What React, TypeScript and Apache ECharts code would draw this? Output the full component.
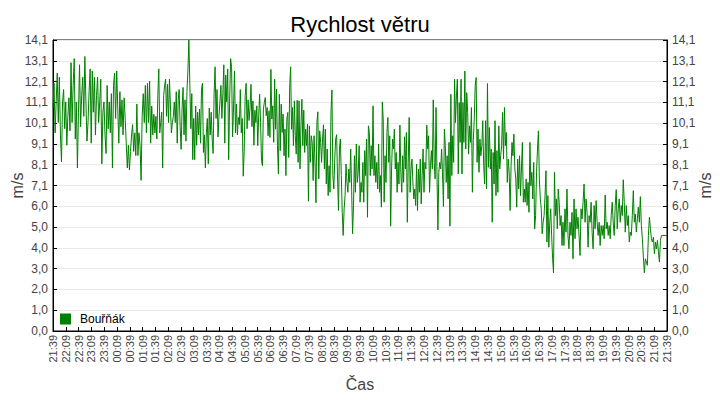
import React, { useEffect, useRef } from "react";
import * as echarts from "echarts";

const seriesName = "Bouřňák";

const xTickLabels = [
  "21:39", "22:09", "22:39", "23:09", "23:39", "00:09", "00:39", "01:09", "01:39", "02:09",
  "02:39", "03:09", "03:39", "04:09", "04:39", "05:09", "05:39", "06:09", "06:39", "07:09",
  "07:39", "08:09", "08:39", "09:09", "09:39", "10:09", "10:39", "11:09", "11:39", "12:09",
  "12:39", "13:09", "13:39", "14:09", "14:39", "15:09", "15:39", "16:09", "16:39", "17:09",
  "17:39", "18:09", "18:39", "19:09", "19:39", "20:09", "20:39", "21:09", "21:39",
];

const yTickLabels = [
  "0,0", "1,0", "2,0", "3,0", "4,0", "5,0", "6,0", "7,1", "8,1", "9,1", "10,1", "11,1", "12,1", "13,1", "14,1",
];

const yMax = 14.1;
const ySplits = 14;
const xMaxMinutes = 1440;

// wind speed readings (m/s) in six time windows
const seg1 = [
  10.8, 12.0, 9.6, 11.1, 12.5, 10.1, 12.3, 9.5, 8.2, 11.1, 11.7, 9.8, 11.1, 9.0, 10.4, 11.3, 9.7, 13.0, 10.1, 11.9,
  13.2, 9.3, 11.1, 7.9, 10.6, 12.9, 9.9, 11.4, 12.3, 10.4, 13.3, 11.1, 9.2, 10.1, 11.6, 12.7, 9.1, 12.6, 10.6, 12.3,
  9.5, 11.4, 12.3, 10.1, 11.1, 12.2, 8.1, 10.6, 11.1, 9.5, 8.6, 11.9, 9.8, 11.1, 9.6, 11.5, 7.9, 11.9, 12.5, 10.3,
  12.6, 10.8, 9.1, 11.6, 9.9, 11.2, 9.5, 11.3, 10.3, 9.1, 7.9, 9.0, 7.8, 8.7, 9.5, 10.0, 8.7, 9.6, 8.5, 11.0,
  8.5, 9.6, 9.0, 7.3, 10.4, 11.5, 10.1, 11.9, 9.6, 12.0, 10.1, 12.1, 9.1, 10.9, 9.5, 10.5,
];
const seg2 = [
  9.6, 10.4, 9.3, 11.4, 12.7, 9.6, 10.1, 10.6, 7.9, 11.4, 11.9, 12.2, 10.4, 11.95, 10.1, 12.2, 10.9, 9.6, 10.1, 10.4,
  11.1, 10.1, 11.6, 9.1, 11.2, 11.7, 9.9, 8.8, 10.8, 11.8, 9.5, 11.2, 9.2, 11.6, 12.6, 14.1, 11.9, 9.8, 11.5, 8.3,
  10.3, 8.3, 10.9, 9.0, 10.6, 9.5, 10.75, 9.1, 11.7, 12.0, 8.65, 9.5, 7.9, 9.6, 10.3, 8.1, 10.8, 9.5, 10.6, 9.3,
  8.6, 11.5, 12.8, 10.3, 11.7, 9.4, 10.4, 11.1, 11.9, 10.3, 11.5, 12.9, 9.1, 12.4, 11.1, 12.7, 8.3, 11.1, 13.2, 12.8,
  9.4, 10.8, 12.6, 9.6, 11.0, 9.5, 10.35, 10.0, 11.7, 9.6, 10.3, 7.5, 8.7, 11.4, 12.0, 9.8, 11.2, 10.2, 10.8, 11.95,
  9.9, 11.15, 9.0, 10.7, 10.1,
];
const seg3 = [
  10.91, 8.98, 10.43, 11.47, 10.1, 8.25, 8.01, 10.75, 11.07, 11.31, 10.43, 10.83, 9.46, 10.67, 9.38, 12.68, 10.27, 10.91, 9.14, 12.2,
  9.78, 11.72, 8.98, 7.61, 11.47, 8.74, 10.99, 9.62, 10.51, 8.49, 9.78, 7.53, 10.27, 10.59, 8.41, 11.8, 12.8, 9.78, 10.83, 8.98,
  11.15, 9.46, 8.57, 11.18, 8.17, 11.15, 7.85, 9.94, 11.23, 8.98, 10.7, 8.65, 9.78, 8.98, 10.02, 6.29, 9.94, 8.17, 9.46, 9.14,
  7.29, 9.46, 8.17, 6.21, 10.1, 10.62, 7.37, 9.7, 9.14, 8.17, 9.3, 9.99, 7.85, 9.78, 7.12, 8.82, 6.56, 8.01, 6.72, 10.62,
  11.68, 7.53, 6.88, 8.33, 9.3, 9.51, 7.37, 5.84, 8.82, 9.3, 7.53, 5.75, 4.63, 5.92, 6.56, 8.09, 7.2, 6.72, 7.85, 7.2,
  8.82, 6.88, 4.71, 6.08, 8.49, 6.72, 9.06, 7.2, 7.69,
];
const seg4 = [
  8.98, 6.24, 7.2, 6.72, 8.17, 6.24, 8.74, 7.53, 9.3, 5.51, 9.94, 9.62, 7.53, 8.98, 7.85, 10.91, 7.53, 8.49, 7.2, 8.17,
  6.88, 9.06, 6.72, 7.53, 6.0, 11.1, 10.27, 6.24, 8.49, 7.2, 9.62, 10.35, 8.17, 9.46, 5.08, 7.85, 9.3, 8.82, 9.78, 7.85,
  8.65, 6.72, 8.17, 7.12, 9.98, 7.69, 6.72, 8.49, 7.2, 9.41, 7.85, 9.62, 5.27, 8.17, 10.35, 6.72, 7.85, 8.33, 7.2, 6.4,
  6.88, 6.08, 8.09, 5.84, 7.85, 6.72, 8.33, 6.16, 7.53, 8.82, 6.72, 8.17, 7.85, 9.98, 8.82, 9.46, 6.72, 8.01, 8.74, 7.85,
  11.2, 8.17, 7.37, 10.83, 7.69, 4.9, 7.69, 8.17, 7.85, 8.82, 7.61, 6.03, 9.78, 8.98, 7.2, 8.49, 6.4, 9.14, 5.08, 11.47,
  7.53, 9.46, 8.17, 12.2, 10.1, 11.39, 12.2, 7.61, 11.07, 9.14,
];
const seg5 = [
  12.2, 7.61, 11.07, 9.14, 12.6, 8.82, 11.55, 10.59, 8.57, 9.94, 9.14, 10.83, 6.72, 9.22, 10.27, 11.91, 12.28, 8.17, 9.78, 7.69,
  9.3, 8.49, 8.98, 10.19, 8.01, 7.12, 10.19, 6.88, 11.99, 7.93, 9.86, 7.85, 8.82, 5.27, 8.65, 7.12, 10.19, 6.56, 8.74, 6.72,
  9.94, 7.85, 8.49, 8.98, 10.59, 8.33, 10.83, 8.98, 9.62, 7.2, 8.33, 7.69, 5.84, 8.01, 9.14, 8.49, 9.54, 7.85, 7.37, 6.0,
  8.33, 6.88, 8.49, 6.56, 7.85, 9.14, 6.24, 6.88, 6.24, 7.37, 6.08, 7.2, 5.75, 9.14, 7.04, 7.69, 6.4, 8.17, 4.95, 5.59,
  7.69, 8.82, 9.7, 7.37, 6.4, 5.92, 4.71, 5.27, 5.59, 6.56, 7.77, 4.31, 6.56, 4.06, 5.27, 5.92, 4.63, 3.53, 2.82, 7.69,
  5.59, 6.4, 4.95, 6.88, 6.24, 5.11, 5.59, 4.14,
];
const seg6 = [
  5.27, 4.14, 5.92, 4.79, 6.88, 4.63, 3.98, 5.27, 4.63, 5.75, 3.5, 6.4, 4.47, 5.92, 4.95, 5.51, 4.63, 3.66, 5.92, 5.43,
  6.24, 7.12, 5.27, 6.4, 5.75, 4.06, 5.59, 5.27, 6.24, 4.79, 3.98, 6.08, 4.95, 6.32, 5.27, 4.63, 5.27, 4.14, 5.11, 4.63,
  5.11, 4.47, 6.59, 4.95, 5.27, 4.63, 5.11, 4.47, 5.59, 6.24, 5.27, 4.63, 6.08, 6.85, 4.95, 5.92, 6.4, 5.27, 6.08, 5.59,
  7.33, 6.24, 4.79, 6.08, 5.11, 5.59, 4.31, 4.79, 4.63, 5.59, 6.8, 5.27, 5.67, 4.79, 5.43, 6.0, 5.27, 6.51, 5.11, 4.47,
  3.58, 2.82, 3.5, 3.34, 3.18, 4.63, 5.51, 4.95, 4.47, 4.31, 4.55, 3.74, 4.31, 3.98, 4.39, 3.82, 3.34, 4.39, 4.63,
];
const segments = [seg1, seg2, seg3, seg4, seg5, seg6];
// minutes after 21:39 at which each reading window starts / ends
const segBounds = [0, 239, 478, 718, 957, 1196, 1427];
const tailTime = 1440;
const tailValue = 4.63;

function buildData(): [number, number][] {
  const out: [number, number][] = [];
  segments.forEach((vals, k) => {
    const a = segBounds[k];
    const b = segBounds[k + 1];
    const isLast = k === segments.length - 1;
    const n = isLast ? vals.length - 1 : vals.length;
    vals.forEach((v, i) => out.push([a + ((b - a) * i) / n, v]));
  });
  out.push([tailTime, tailValue]);
  return out;
}

const FONT = "'Liberation Sans', Arial, sans-serif";

function yAxisCfg(position: "left" | "right") {
  const interval = yMax / ySplits;
  return {
    type: "value" as const,
    position,
    min: 0,
    max: yMax,
    interval,
    name: "m/s",
    nameLocation: "middle" as const,
    nameRotate: 90,
    nameMoveOverlap: false,
    nameGap: position === "left" ? 28 : 30,
    nameTextStyle: { fontSize: 16, color: "#444", fontFamily: FONT },
    axisLine: { show: true, lineStyle: { color: "#000", width: 1 } },
    axisTick: { show: true, inside: true, length: 4, lineStyle: { color: "#000" } },
    axisLabel: {
      fontSize: 12,
      color: "#444",
      fontFamily: FONT,
      margin: 5,
      formatter: (v: number) => yTickLabels[Math.round(v / interval)] ?? "",
    },
    splitLine: position === "left" ? { show: true, lineStyle: { color: "#e9e9e9", width: 1 } } : { show: false },
  };
}

export default function App() {
  const ref = useRef<HTMLDivElement>(null);
  useEffect(() => {
    if (!ref.current) return;
    const chart = echarts.init(ref.current, null, { renderer: "svg" });
    chart.setOption({
      animation: false,
      backgroundColor: "#fff",
      textStyle: { fontFamily: FONT },
      title: {
        text: "Rychlost větru",
        left: "center",
        top: 8,
        textStyle: { fontSize: 22, fontWeight: "normal", color: "#000", fontFamily: FONT },
      },
      legend: {
        data: [seriesName],
        left: 60,
        top: 313,
        padding: 0,
        icon: "rect",
        itemWidth: 11,
        itemHeight: 11,
        itemGap: 8,
        textStyle: { fontSize: 12, color: "#000", fontFamily: FONT, padding: [0, 0, 0, 4] },
      },
      grid: {
        left: 53,
        right: 53,
        top: 40,
        bottom: 69,
        containLabel: false,
        outerBoundsMode: "none",
        show: true,
        borderColor: "#000",
        borderWidth: 1,
        backgroundColor: "#fff",
      },
      xAxis: {
        type: "value",
        min: 0,
        max: xMaxMinutes,
        interval: 30,
        name: "Čas",
        nameLocation: "middle",
        nameGap: 45,
        nameTextStyle: { fontSize: 16, color: "#444", fontFamily: FONT },
        axisLine: { show: true, lineStyle: { color: "#000", width: 1 } },
        axisTick: { show: true, inside: true, length: 4, lineStyle: { color: "#000" } },
        axisLabel: {
          rotate: 90,
          fontSize: 11,
          color: "#444",
          fontFamily: FONT,
          margin: 4,
          formatter: (v: number) => xTickLabels[Math.round(v / 30)] ?? "",
        },
        splitLine: { show: false },
      },
      yAxis: [yAxisCfg("left"), yAxisCfg("right")],
      series: [
        {
          name: seriesName,
          type: "line",
          yAxisIndex: 0,
          data: buildData(),
          showSymbol: false,
          symbol: "none",
          lineStyle: { color: "#008000", width: 1 },
          itemStyle: { color: "#008000" },
        },
      ],
    });
    return () => chart.dispose();
  }, []);
  return (
    <div
      ref={ref}
      style={{ position: "fixed", left: 0, top: 0, width: 720, height: 400, background: "#fff" }}
    />
  );
}
